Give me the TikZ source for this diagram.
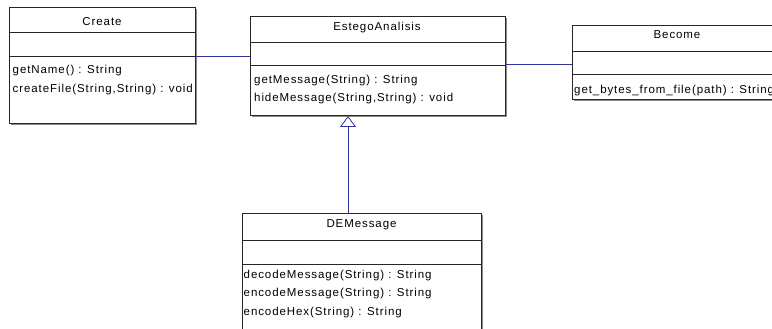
\documentclass[tikz,border=0pt]{standalone}
\usepackage{fontspec}
\setmainfont{Liberation Sans}[LetterSpace=8]
\usetikzlibrary{arrows.meta,shadows}
\definecolor{assoccol}{RGB}{48,48,160}
\begin{document}
\begin{tikzpicture}[x=1pt,y=-1pt,
  classbox/.style={draw=black!85, line width=1pt, fill=white, anchor=north west, inner sep=0pt,
    drop shadow={shadow xshift=1.2pt, shadow yshift=-1.2pt, opacity=1, fill=black!45}},
  lbl/.style={font=\fontsize{11.5}{13}\selectfont, inner sep=0pt, text=black},
  ctitle/.style={lbl, anchor=base},
  cop/.style={lbl, anchor=base west},
  csep/.style={draw=black!85, line width=1pt},
  link/.style={draw=assoccol, line width=0.8pt},
  gen/.style={link, -{Triangle[open, width=16pt, length=11pt, fill=white]}}]
\useasboundingbox (0,0) rectangle (772,329);
\clip (0,0) rectangle (772,329);
\fill[white] (0,0) rectangle (772,329);

% Create
\node[classbox, minimum width=186pt, minimum height=116pt] (create) at (9,7) {};
\draw[csep] (create.west |- 0,33) -- (create.east |- 0,33);
\draw[csep] (create.west |- 0,57) -- (create.east |- 0,57);
\node[ctitle] (createname) at (102,26) {Create};
\node[cop] (createop1) at (12.5,74) {getName() : String};
\node[cop] (createop2) at (12.5,92.5) {createFile(String,String) : void};

% EstegoAnalisis
\node[classbox, minimum width=255pt, minimum height=99pt] (estego) at (250,16) {};
\draw[csep] (estego.west |- 0,43) -- (estego.east |- 0,43);
\draw[csep] (estego.west |- 0,66) -- (estego.east |- 0,66);
\node[ctitle] (estegoname) at (377,31) {EstegoAnalisis};
\node[cop] (estegoop1) at (254,83.5) {getMessage(String) : String};
\node[cop] (estegoop2) at (254,101.5) {hideMessage(String,String) : void};

% Become
\node[classbox, minimum width=260pt, minimum height=74pt] (become) at (572,25) {};
\draw[csep] (become.west |- 0,52) -- (become.east |- 0,52);
\draw[csep] (become.west |- 0,75) -- (become.east |- 0,75);
\node[ctitle] (becomename) at (677,38.5) {Become};
\node[cop] (becomeop1) at (574,93.3) {get\_bytes\_from\_file(path) : String};

% DEMessage
\node[classbox, minimum width=239pt, minimum height=135pt] (demsg) at (242,213) {};
\draw[csep] (demsg.west |- 0,240) -- (demsg.east |- 0,240);
\draw[csep] (demsg.west |- 0,264) -- (demsg.east |- 0,264);
\node[ctitle] (demsgname) at (361.5,227.5) {DEMessage};
\node[cop] (demsgop1) at (243.5,278.3) {decodeMessage(String) : String};
\node[cop] (demsgop2) at (243.5,296.7) {encodeMessage(String) : String};
\node[cop] (demsgop3) at (243.5,315.7) {encodeHex(String) : String};

% connectors
\coordinate (la) at (0,56.5);
\coordinate (lb) at (0,64);
\coordinate (lg) at (348,0);
\draw[link] (create.east |- la) -- (estego.west |- la);
\draw[link] (estego.east |- lb) -- (become.west |- lb);
\draw[gen] (demsg.north -| lg) -- (estego.south -| lg);
\end{tikzpicture}
\end{document}
